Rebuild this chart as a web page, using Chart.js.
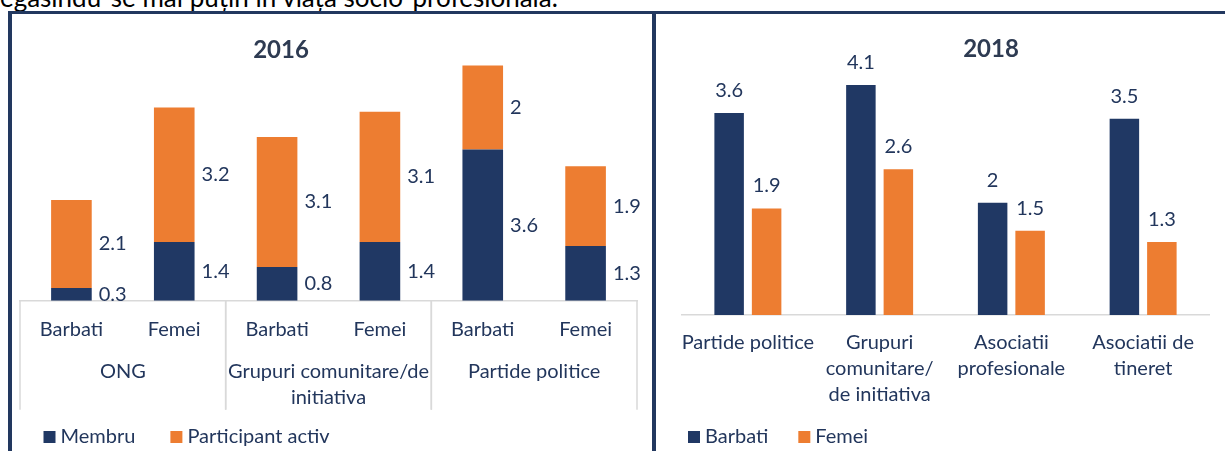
<!DOCTYPE html>
<html>
<head>
<meta charset="utf-8">
<script src="https://cdn.jsdelivr.net/npm/chart.js@4.4.1/dist/chart.umd.min.js"></script>
<style>
  body { margin: 0; background: #fff; width: 1225px; height: 451px; overflow: hidden; position: relative; font-family: Lato, sans-serif; }
  .caption { position: absolute; left: -9px; top: -16px; font-size: 26px; line-height: 26px; color: #000; white-space: nowrap; }
  .rule { position: absolute; background: #22385f; }
  .box { position: absolute; top: 14px; height: 437px; }
</style>
</head>
<body>
<div class="caption">regăsindu-se mai puțin în viața socio-profesională.</div>
<div class="rule" style="left:8px; top:11px; width:1217px; height:3px"></div>
<div class="rule" style="left:8px; top:11px; width:4px; height:440px"></div>
<div class="rule" style="left:652px; top:11px; width:4px; height:440px"></div>
<div class="box" style="left:12px; width:640px"><canvas id="c2016"></canvas></div>
<div class="box" style="left:656px; width:569px"><canvas id="c2018"></canvas></div>
<script>
const NAVY = '#203864', ORANGE = '#ED7D31', TEXT = '#22365C', AXIS = '#D9D9D9';

// 2016 - stacked, two-level categories
const title2016 = '2016';
const groups2016 = ['ONG', ['Grupuri comunitare/de', 'initiativa'], 'Partide politice'];
const sexes2016 = ['Barbati', 'Femei', 'Barbati', 'Femei', 'Barbati', 'Femei'];
const membru2016 = [0.3, 1.4, 0.8, 1.4, 3.6, 1.3];
const activ2016 = [2.1, 3.2, 3.1, 3.1, 2, 1.9];

// 2018 - grouped
const title2018 = '2018';
const categories2018 = ['Partide politice', ['Grupuri', 'comunitare/', 'de initiativa'], ['Asociatii', 'profesionale'], ['Asociatii de', 'tineret']];
const barbati2018 = [3.6, 4.1, 2, 3.5];
const femei2018 = [1.9, 2.6, 1.5, 1.3];

const FONT = '20px Lato';

// value labels: beside the segment (stacked) or above the bar (grouped)
const valueLabels = {
  id: 'valueLabels',
  afterDatasetsDraw(chart, args, opts) {
    const ctx = chart.ctx;
    ctx.save();
    ctx.font = FONT;
    ctx.fillStyle = TEXT;
    chart.data.datasets.forEach((ds, i) => {
      chart.getDatasetMeta(i).data.forEach((bar, j) => {
        const v = String(ds.data[j]);
        if (opts.beside) {
          ctx.textAlign = 'left';
          ctx.textBaseline = 'middle';
          ctx.fillText(v, bar.x + bar.width / 2 + 7, (bar.y + bar.base) / 2);
        } else {
          ctx.textAlign = 'center';
          ctx.textBaseline = 'alphabetic';
          ctx.fillText(v, bar.x, bar.y - 16);
        }
      });
    });
    ctx.restore();
  }
};

// title + legend drawn at fixed spots like the excel original
const decor = {
  id: 'decor',
  afterDraw(chart, args, opts) {
    const ctx = chart.ctx;
    ctx.save();
    ctx.fillStyle = '#2E3B52';
    ctx.font = 'bold 24px Lato';
    ctx.textAlign = 'center';
    ctx.textBaseline = 'middle';
    ctx.fillText(opts.title, opts.titleX, opts.titleY);

    ctx.font = FONT;
    ctx.textAlign = 'left';
    let x = opts.legendX;
    chart.data.datasets.forEach(ds => {
      ctx.fillStyle = ds.backgroundColor;
      ctx.fillRect(x, opts.legendY - 6, 12, 12);
      ctx.fillStyle = TEXT;
      ctx.fillText(ds.label, x + 17, opts.legendY);
      x += 17 + ctx.measureText(ds.label).width + opts.gap;
    });
    ctx.restore();
  }
};

// outer category level for 2016 (separators + group names)
const groupAxis = {
  id: 'groupAxis',
  afterDraw(chart) {
    const xs = chart.scales.x, ctx = chart.ctx;
    const step = xs.width / sexes2016.length;
    const per = sexes2016.length / groups2016.length;
    const top = chart.chartArea.bottom;
    ctx.save();
    ctx.strokeStyle = AXIS;
    ctx.lineWidth = 1.5;
    ctx.font = FONT;
    ctx.fillStyle = TEXT;
    ctx.textAlign = 'center';
    ctx.textBaseline = 'middle';
    groups2016.forEach((g, i) => {
      const left = xs.getPixelForValue(i * per) - step / 2;
      const right = left + step * per;
      [left, right].forEach(px => {
        ctx.beginPath();
        ctx.moveTo(px, top);
        ctx.lineTo(px, top + 109);
        ctx.stroke();
      });
      const lines = Array.isArray(g) ? g : [g];
      lines.forEach((t, k) => ctx.fillText(t, (left + right) / 2, top + 71 + k * 26));
    });
    ctx.restore();
  }
};

new Chart(document.getElementById('c2016'), {
  type: 'bar',
  data: {
    labels: sexes2016,
    datasets: [
      { label: 'Membru', data: membru2016, backgroundColor: NAVY, borderWidth: 0 },
      { label: 'Participant activ', data: activ2016, backgroundColor: ORANGE, borderWidth: 0 }
    ]
  },
  options: {
    responsive: true,
    maintainAspectRatio: false,
    animation: false,
    barPercentage: 0.79,
    categoryPercentage: 0.5,
    layout: { padding: { top: 34.7, left: 8, right: 15, bottom: 30.3 } },
    scales: {
      x: {
        stacked: true,
        grid: { display: false, drawTicks: false },
        border: { display: true, color: AXIS, width: 1.5 },
        ticks: { color: TEXT, font: { family: 'Lato', size: 20, lineHeight: 1.2 }, padding: 17.3, maxRotation: 0, autoSkip: false },
        afterFit(s) { s.height = 120; }
      },
      y: { stacked: true, display: false, min: 0, max: 6 }
    },
    plugins: {
      legend: { display: false },
      tooltip: { enabled: false },
      valueLabels: { beside: true },
      decor: { title: title2016, titleX: 269, titleY: 36, legendX: 31.5, legendY: 423, gap: 35 }
    }
  },
  plugins: [valueLabels, decor, groupAxis]
});

new Chart(document.getElementById('c2018'), {
  type: 'bar',
  data: {
    labels: categories2018,
    datasets: [
      { label: 'Barbati', data: barbati2018, backgroundColor: NAVY, borderWidth: 0 },
      { label: 'Femei', data: femei2018, backgroundColor: ORANGE, borderWidth: 0 }
    ]
  },
  options: {
    responsive: true,
    maintainAspectRatio: false,
    animation: false,
    barPercentage: 0.787,
    categoryPercentage: 0.569,
    layout: { padding: { top: 20.5, left: 26, right: 16, bottom: 26 } },
    scales: {
      x: {
        grid: { display: false, drawTicks: false },
        border: { display: true, color: AXIS, width: 1.5 },
        ticks: { color: TEXT, font: { family: 'Lato', size: 20, lineHeight: 1.3 }, padding: 15, maxRotation: 0, autoSkip: false },
        afterFit(s) { s.height = 110; }
      },
      y: { display: false, min: 0, max: 5 }
    },
    plugins: {
      legend: { display: false },
      tooltip: { enabled: false },
      valueLabels: { beside: false },
      decor: { title: title2018, titleX: 335, titleY: 35, legendX: 32, legendY: 423, gap: 30 }
    }
  },
  plugins: [valueLabels, decor]
});
</script>
</body>
</html>
